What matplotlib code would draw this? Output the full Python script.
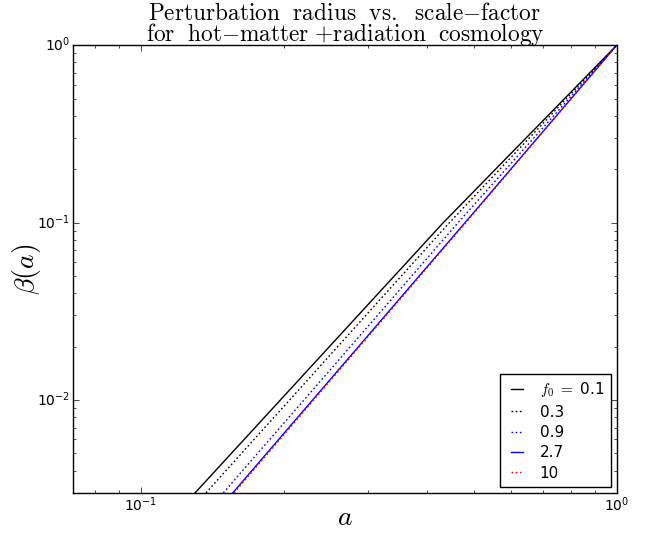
import numpy as np
import matplotlib
matplotlib.use("Agg")
import matplotlib.pyplot as plt

plt.style.use('classic')
plt.rcParams['font.family'] = ['DejaVu Sans']

# beta levels where each curve was read, and the scale factor a at those levels
beta_pts = [0.003, 0.1, 1.0]
a_f01 = [0.130, 0.432, 1.0]
a_f03 = [0.137, 0.445, 1.0]
a_f09 = [0.149, 0.464, 1.0]
a_f27 = [0.156, 0.480, 1.0]
a_f10 = [0.157, 0.482, 1.0]

labels = [r'$f_0\ =\ $0.1', '0.3', '0.9', '2.7', '10']
styles = ['k-', 'k:', 'b:', 'b-', 'r:']
title1 = r'$\mathrm{Perturbation\ \ radius\ \ vs.\ \ scale{-}factor}$'
title2 = r'$\mathrm{for\ \ hot{-}matter\ {+}radiation\ \ cosmology}$'

fig = plt.figure(figsize=(6.52, 5.38), dpi=100, facecolor='white')
ax = fig.add_axes([0.112, 0.084, 0.834, 0.832])

for a_vals, st, lab in zip([a_f01, a_f03, a_f09, a_f27, a_f10], styles, labels):
    line, = ax.loglog(a_vals, beta_pts, st, label=lab, lw=1)
    if st.endswith(':'):
        line.set_dashes((1.2, 1.8))

ax.set_xlim(0.072, 1.0)
ax.set_ylim(0.003, 1.0)
ax.tick_params(axis='both', which='major', labelsize=10, pad=2)

ax.set_xlabel(r'$a$', fontsize=20, math_fontfamily='cm', va='center')
ax.xaxis.set_label_coords(0.5, -0.055)
ax.set_ylabel(r'$\beta(a)$', fontsize=20, math_fontfamily='cm', va='center')
ax.yaxis.set_label_coords(-0.086, 0.5)

# two title lines, placed by hand
fig.text(0.529, 1 - 19.5 / 538, title1, fontsize=16.8, math_fontfamily='cm',
         ha='center', va='baseline')
fig.text(0.529, 1 - 41.0 / 538, title2, fontsize=16.8, math_fontfamily='cm',
         ha='center', va='baseline')

leg = ax.legend(loc='lower right', fontsize=11, handlelength=1.4,
                handletextpad=0.8, labelspacing=0.35, borderpad=0.4,
                borderaxespad=0.4)
leg.get_frame().set_edgecolor('black')
leg.get_texts()[0].set_math_fontfamily('cm')
for h in leg.get_lines():
    if h.get_linestyle() != '-':
        h.set_dashes((1.2, 1.8))

fig.savefig('out.png', dpi=100, facecolor='white')
